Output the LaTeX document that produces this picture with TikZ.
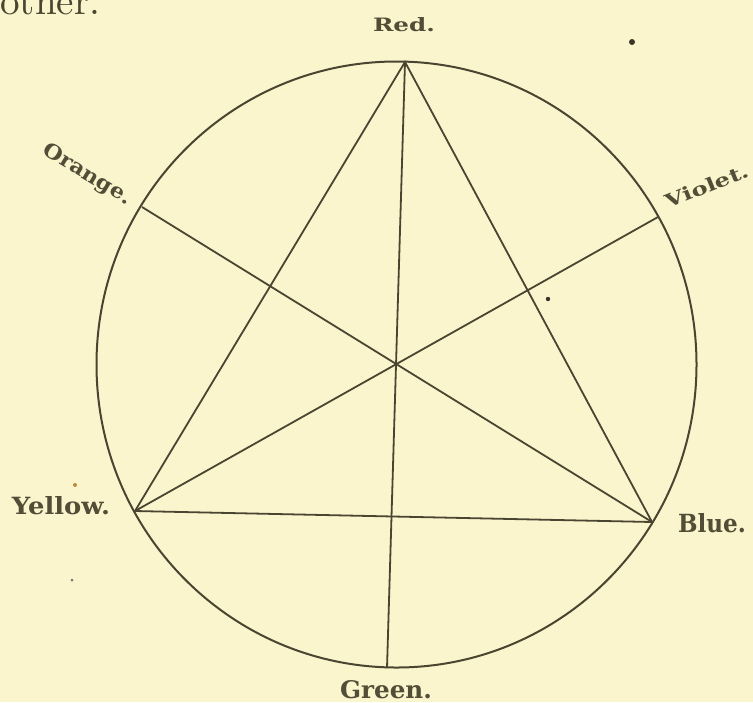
\documentclass[tikz,border=0pt]{standalone}
\usepackage{fontspec}
\usepackage{graphicx}
\newfontfamily\labelfont{DejaVu Serif}
\definecolor{paper}{HTML}{FBF5CE}
\definecolor{ink}{HTML}{4A4530}
\definecolor{textink}{HTML}{524D36}
\definecolor{speck}{HTML}{3A3528}
\definecolor{rust}{HTML}{C08A3A}
\tikzset{
  wheel/.style={draw=ink, line width=1pt},
  spoke/.style={draw=ink, line width=0.9pt},
  lab/.style={inner sep=0pt, text=textink, font=\labelfont\bfseries},
}
\begin{document}
\begin{tikzpicture}[x=0.5pt,y=-0.5pt]
\fill[paper] (0,0) rectangle (753,702);
\useasboundingbox (0,0) rectangle (753,702);
% page text cut at top
\node[inner sep=0pt, anchor=base west, text=ink] (other) at (0,14) {\resizebox{50pt}{!}{other.}};
% specks
\fill[speck] (632,42) circle (3);
\fill[speck] (548,299) circle (2.2);
\fill[rust] (75,485) circle (2);
\fill[speck!70] (72,580) circle (1.5);
% vertices
\coordinate (R) at (405,62);
\coordinate (V) at (658,217);
\coordinate (B) at (652,522);
\coordinate (G) at (387,668);
\coordinate (Y) at (135,511);
\coordinate (O) at (142,207);
\coordinate (C) at (396.5,364.5);
% circle
\draw[wheel] (C) ellipse [x radius=300, y radius=303];
% triangle
\draw[spoke] (R) -- (Y) -- (B) -- cycle;
% diameters
\draw[spoke] (R) -- (G);
\draw[spoke] (O) -- (B);
\draw[spoke] (V) -- (Y);
% labels
\node[lab, anchor=base] (lred) at (404,31) {\resizebox{31pt}{7pt}{Red.}};
\node[lab, anchor=base] (lyellow) at (61,514) {\resizebox{49pt}{9pt}{Yellow.}};
\node[lab, anchor=base] (lblue) at (712,532) {\resizebox{34pt}{9.5pt}{Blue.}};
\node[lab, anchor=base] (lgreen) at (386,698) {\resizebox{46pt}{9pt}{Green.}};
\node[lab, rotate=-31] (lorange) at (87,175) {\resizebox{50pt}{7.5pt}{Orange.}};
\node[lab, rotate=22] (lviolet) at (707,186) {\resizebox{44pt}{7pt}{Violet.}};
\end{tikzpicture}
\end{document}
